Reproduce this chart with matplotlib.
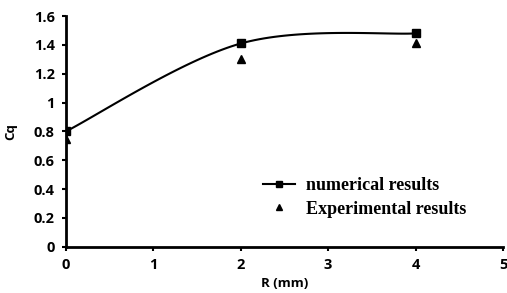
import numpy as np
import matplotlib.pyplot as plt

r_mm = [0, 2, 4]
cq_numerical = [0.80, 1.41, 1.48]
cq_experimental = [0.75, 1.30, 1.41]


def smooth_curve(x, y, n=40):
    # Excel-style smoothed line: cubic Bezier segments, tension 1/6
    x = np.asarray(x, float)
    y = np.asarray(y, float)
    px = np.concatenate([[x[0]], x, [x[-1]]])
    py = np.concatenate([[y[0]], y, [y[-1]]])
    xs, ys = [], []
    t = np.linspace(0, 1, n)
    for i in range(len(x) - 1):
        p0 = np.array([px[i + 1], py[i + 1]])
        p3 = np.array([px[i + 2], py[i + 2]])
        c1 = p0 + (np.array([px[i + 2], py[i + 2]]) - np.array([px[i], py[i]])) / 6
        c2 = p3 - (np.array([px[i + 3], py[i + 3]]) - np.array([px[i + 1], py[i + 1]])) / 6
        b = ((1 - t) ** 3)[:, None] * p0 + (3 * (1 - t) ** 2 * t)[:, None] * c1 \
            + (3 * (1 - t) * t ** 2)[:, None] * c2 + (t ** 3)[:, None] * p3
        xs.extend(b[:, 0])
        ys.extend(b[:, 1])
    return xs, ys


fig = plt.figure(figsize=(5.07, 2.93), dpi=100)
ax = fig.add_axes([0.130, 0.158, 0.862, 0.787])

sx, sy = smooth_curve(r_mm, cq_numerical)
ax.plot(sx, sy, color='black', lw=1.5, zorder=3)
ax.plot(r_mm, cq_numerical, ls='none', marker='s', ms=6, color='black', zorder=4)
ax.plot(r_mm, cq_experimental, ls='none', marker='^', ms=6, color='black', zorder=4)

# legend handles
ax.plot([], [], color='black', lw=1.5, marker='s', ms=5, label='numerical results')
ax.plot([], [], ls='none', marker='^', ms=5, color='black', label='Experimental results')

ax.set_xlim(0, 5)
ax.set_ylim(0, 1.6)
ax.set_xticks([0, 1, 2, 3, 4, 5])
ax.set_yticks([0, 0.2, 0.4, 0.6, 0.8, 1.0, 1.2, 1.4, 1.6])
ax.set_yticklabels(['0', '0.2', '0.4', '0.6', '0.8', '1', '1.2', '1.4', '1.6'])
for s in ['top', 'right']:
    ax.spines[s].set_visible(False)
for s in ['left', 'bottom']:
    ax.spines[s].set_linewidth(2)
ax.tick_params(direction='out', length=3, width=1.5, labelsize=10.5, pad=5)
for lab in ax.get_xticklabels() + ax.get_yticklabels():
    lab.set_fontweight('bold')
    lab.set_family('Open Sans')

ax.set_xlabel('R (mm)', fontsize=9.5, fontweight='bold', family='Open Sans', labelpad=4)
ax.set_ylabel('Cq', fontsize=9.5, fontweight='bold', family='Open Sans', labelpad=12)

ax.legend(loc='upper left', bbox_to_anchor=(0.43, 0.34), frameon=False,
          prop={'family': 'Liberation Serif', 'weight': 'bold', 'size': 13},
          handlelength=1.8, handletextpad=0.6, labelspacing=0.35, borderpad=0)

fig.savefig('out.png', dpi=100)
